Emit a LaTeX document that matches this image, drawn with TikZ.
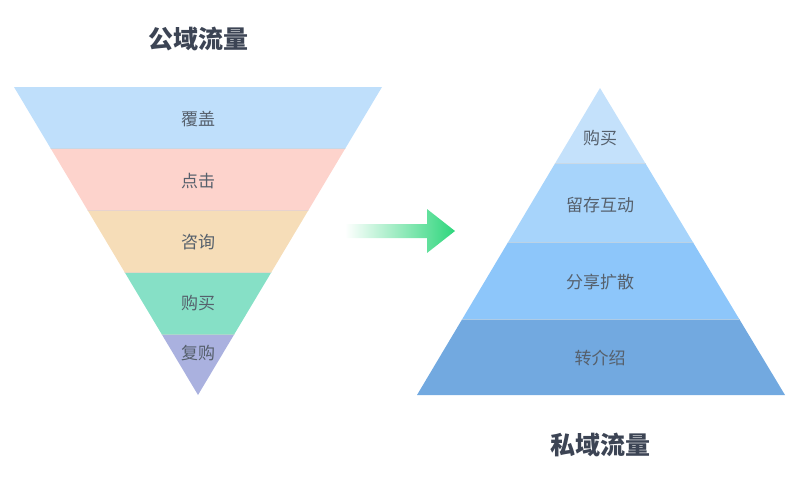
\documentclass[tikz,border=0pt]{standalone}
\usepackage{fontspec}
\setmainfont{Noto Sans CJK SC}
\usepackage{tikz}
\usetikzlibrary{positioning}
\definecolor{pubA}{HTML}{BFDFFB}
\definecolor{pubB}{HTML}{FDD3CC}
\definecolor{pubC}{HTML}{F6DDB8}
\definecolor{pubD}{HTML}{86E0C6}
\definecolor{pubE}{HTML}{AAB1DF}
\definecolor{priA}{HTML}{C4E1FB}
\definecolor{priB}{HTML}{A7D4FB}
\definecolor{priC}{HTML}{8DC6FA}
\definecolor{priD}{HTML}{72A9E0}
\definecolor{txtgrey}{HTML}{56606C}
\definecolor{ttldark}{HTML}{3C4454}
\definecolor{arrgreen}{HTML}{2ED67C}

\begin{document}
\begin{tikzpicture}[x=1pt,y=-1pt,
  lbl/.style={font=\fontsize{17}{19}\selectfont,color=txtgrey,inner sep=0pt},
  ttl/.style={font=\fontsize{25}{28}\selectfont\bfseries,color=ttldark,inner sep=0pt},
  bandline/.style={line width=0.5pt}]
\useasboundingbox (0,0) rectangle (811,488);
% public funnel
\coordinate (fl) at (14,87);
\coordinate (fr) at (382,87);
\coordinate (ftip) at (198,395);
\begin{scope}
  \clip (fl) -- (fr) -- (ftip) -- cycle;
  \foreach \ya/\yb/\col in {87/148/pubA,148/210/pubB,210/272/pubC,272/334/pubD,334/396/pubE}
    \fill[\col] (0,\ya) rectangle (400,\yb);
  \foreach \yy/\col in {148/pubA,210/pubB,272/pubC,334/pubD}
    \draw[bandline,\col!85!black!60] (0,\yy) -- (400,\yy);
\end{scope}
\node[ttl] (pubtitle) at (198,39) {公域流量};
\node[lbl] (cover) at (198,119) {覆盖};
\node[lbl] (click) at (198,181) {点击};
\node[lbl] (ask) at (198,242) {咨询};
\node[lbl] (buy) at (198,303) {购买};
\node[lbl] (rebuy) at (198,353) {复购};
% private pyramid
\coordinate (ptop) at (600,88);
\coordinate (pl) at (417,395);
\coordinate (pr) at (785,395);
\begin{scope}
  \clip (ptop) -- (pr) -- (pl) -- cycle;
  \foreach \ya/\yb/\col in {87/163/priA,163/242/priB,242/319/priC,319/396/priD}
    \fill[\col] (410,\ya) rectangle (800,\yb);
  \foreach \yy/\col in {163/priA,242/priB,319/priC}
    \draw[bandline,\col!85!black!60] (410,\yy) -- (800,\yy);
\end{scope}
\node[ttl] (prititle) at (600,445) {私域流量};
\node[lbl] (purchase) at (600,138) {购买};
\node[lbl] (keep) at (600,205) {留存互动};
\node[lbl] (share) at (600,282) {分享扩散};
\node[lbl] (refer) at (600,358) {转介绍};
% arrow
\coordinate (atail) at (345,231);
\coordinate (ahead) at (455,231);
\shade[left color=white,right color=arrgreen]
  ([yshift=-7]atail) -- ([xshift=-28,yshift=-7]ahead) -- ([xshift=-28,yshift=-22]ahead)
  -- (ahead) -- ([xshift=-28,yshift=22]ahead) -- ([xshift=-28,yshift=7]ahead)
  -- ([yshift=7]atail) -- cycle;
\end{tikzpicture}
\end{document}
